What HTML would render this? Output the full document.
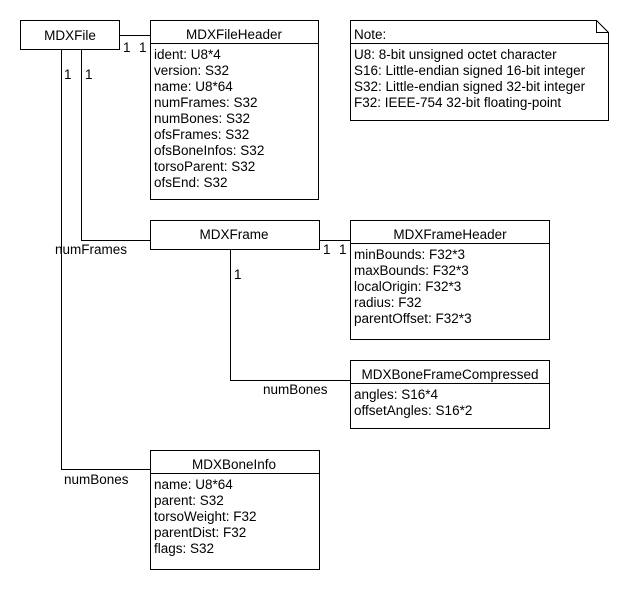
<!DOCTYPE html>
<html><head><style>
html,body{margin:0;padding:0;background:#fff;}
svg text{font-family:"Liberation Sans",Arial,sans-serif;font-size:13.5px;fill:#000;}
</style></head><body>
<svg width="620" height="590" viewBox="0 0 620 590" xmlns="http://www.w3.org/2000/svg">
<g fill="none" stroke="#000" stroke-width="1" shape-rendering="crispEdges">
<path d="M119.5 35.5H150.5"/>
<path d="M61.5 49V469.5H150"/>
<path d="M81.5 49V240.5H150"/>
<path d="M319 240.5H350"/>
<path d="M230.5 249V380.5H350"/>
<rect x="20.5" y="20.5" width="99" height="29"/>
<rect x="150.5" y="20.5" width="168" height="179"/>
<path d="M150.5 43.5H318.5"/>
<rect x="150.5" y="220.5" width="169" height="29"/>
<rect x="350.5" y="220.5" width="199" height="119"/>
<path d="M350.5 243.5H549.5"/>
<rect x="350.5" y="360.5" width="199" height="68"/>
<path d="M350.5 383.5H549.5"/>
<rect x="150.5" y="450.5" width="169" height="119"/>
<path d="M150.5 473.5H319.5"/>
<path d="M350.5 20.5H596.5L608.5 32.5V120.5H350.5Z"/>
<path d="M596.5 20.5V32.5H608.5"/>
<path d="M350.5 43.5H608.5"/>
</g>
<text x="70" y="40" text-anchor="middle">MDXFile</text>
<text x="234" y="39" text-anchor="middle">MDXFileHeader</text>
<text x="154" y="59">ident: U8*4</text>
<text x="154" y="75">version: S32</text>
<text x="154" y="91">name: U8*64</text>
<text x="154" y="107">numFrames: S32</text>
<text x="154" y="123">numBones: S32</text>
<text x="154" y="139">ofsFrames: S32</text>
<text x="154" y="155">ofsBoneInfos: S32</text>
<text x="154" y="171">torsoParent: S32</text>
<text x="154" y="187">ofsEnd: S32</text>
<text x="123" y="52">1</text>
<text x="139" y="52">1</text>
<text x="64" y="79">1</text>
<text x="85" y="79">1</text>
<text x="234" y="239" text-anchor="middle">MDXFrame</text>
<text x="55" y="254">numFrames</text>
<text x="323" y="254">1</text>
<text x="339" y="254">1</text>
<text x="234" y="279">1</text>
<text x="450" y="239" text-anchor="middle">MDXFrameHeader</text>
<text x="354" y="259">minBounds: F32*3</text>
<text x="354" y="275">maxBounds: F32*3</text>
<text x="354" y="291">localOrigin: F32*3</text>
<text x="354" y="307">radius: F32</text>
<text x="354" y="323">parentOffset: F32*3</text>
<text x="263" y="394">numBones</text>
<text x="450" y="379" text-anchor="middle">MDXBoneFrameCompressed</text>
<text x="354" y="399">angles: S16*4</text>
<text x="354" y="415">offsetAngles: S16*2</text>
<text x="64" y="484">numBones</text>
<text x="234" y="469" text-anchor="middle">MDXBoneInfo</text>
<text x="154" y="489">name: U8*64</text>
<text x="154" y="505">parent: S32</text>
<text x="154" y="521">torsoWeight: F32</text>
<text x="154" y="537">parentDist: F32</text>
<text x="154" y="553">flags: S32</text>
<text x="354" y="39">Note:</text>
<text x="354" y="59">U8: 8-bit unsigned octet character</text>
<text x="354" y="75">S16: Little-endian signed 16-bit integer</text>
<text x="354" y="91">S32: Little-endian signed 32-bit integer</text>
<text x="354" y="107">F32: IEEE-754 32-bit floating-point</text>
</svg>
</body></html>
